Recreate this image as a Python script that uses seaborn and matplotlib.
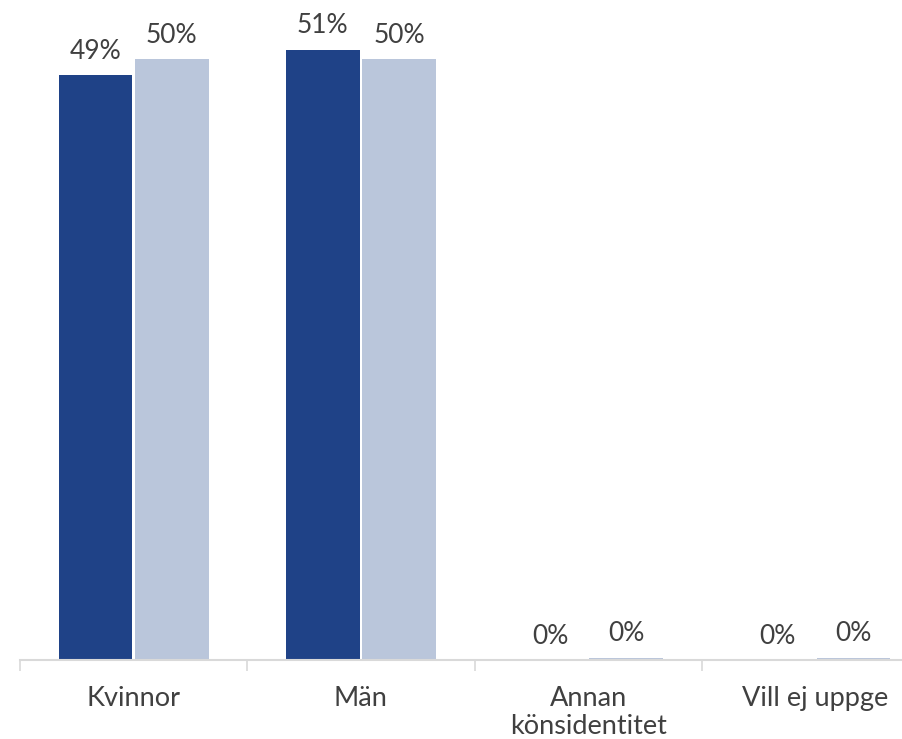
import numpy as np
import pandas as pd
import matplotlib
matplotlib.use("Agg")
import matplotlib.pyplot as plt
import seaborn as sns

kategorier = ["Kvinnor", "Män", "Annan\nkönsidentitet", "Vill ej uppge"]
serie_a = [48.9, 51.0, 0.0, 0.0]   # mörkblå
serie_b = [50.2, 50.2, 0.2, 0.2]   # ljusblå
serier = ["A", "B"]

farger = ["#1F4287", "#BAC6DB"]
textfarg = "#404040"

df = pd.DataFrame({
    "kategori": kategorier * 2,
    "andel": serie_a + serie_b,
    "serie": [serier[0]] * 4 + [serier[1]] * 4,
})

sns.set_style("white")
plt.rcParams["font.family"] = ["Lato", "DejaVu Sans"]

fig = plt.figure(figsize=(9.02, 7.39), dpi=100)
# axeln går förbi bildens högerkant som i originalet
ax = fig.add_axes([20 / 902, 1 - 660 / 739, 909 / 902, 650 / 739])

sns.barplot(data=df, x="kategori", y="andel", hue="serie", order=kategorier,
            palette=farger, saturation=1, width=0.67, gap=0.03,
            linewidth=0, legend=False, ax=ax)

for cont in ax.containers:
    ax.bar_label(cont, labels=[f"{v:.0f}%" for v in cont.datavalues],
                 padding=8, fontsize=19, color=textfarg)

ax.set_xlim(-0.5, 3.5)
ax.set_ylim(0, 54.3)
ax.set_xlabel("")
ax.set_ylabel("")
ax.set_yticks([])
ax.set_xticks(range(len(kategorier)))
ax.set_xticklabels(kategorier, fontsize=19.5, color=textfarg, linespacing=1.15)
ax.tick_params(axis="x", which="major", bottom=False, pad=15)
ax.set_xticks(np.arange(-0.5, 4, 1), minor=True)
ax.tick_params(axis="x", which="minor", bottom=True, length=8, width=1.2,
               color="#D9D9D9")

for s in ["top", "right", "left"]:
    ax.spines[s].set_visible(False)
ax.spines["bottom"].set_color("#D9D9D9")
ax.spines["bottom"].set_linewidth(1.5)

fig.savefig("out.png", dpi=100)
